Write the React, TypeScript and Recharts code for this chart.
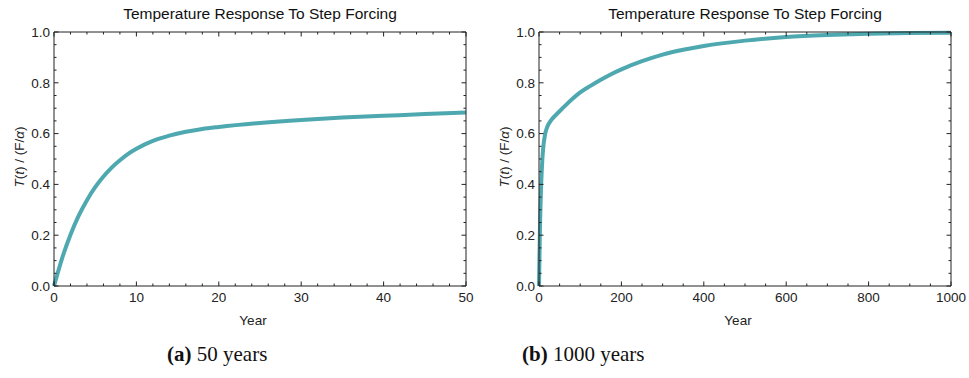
import { LineChart, Line, XAxis, YAxis } from "recharts"

// 50-year window
const yearsShort = [0, 1, 2, 3, 4, 5, 6, 7, 8, 9, 10, 12, 14, 16, 18, 20, 25, 30, 35, 40, 45, 50];
const responseShort = [0, 0.111, 0.202, 0.277, 0.338, 0.389, 0.431, 0.466, 0.495, 0.52, 0.54, 0.571, 0.592, 0.607, 0.618, 0.626, 0.642, 0.654, 0.663, 0.67, 0.677, 0.683];

// 1000-year window
const yearsLong = [0, 2, 5, 8, 10, 15, 20, 30, 40, 60, 80, 100, 125, 150, 175, 200, 250, 300, 350, 400, 500, 600, 700, 800, 900, 1000];
const responseLong = [0, 0.202, 0.389, 0.495, 0.54, 0.599, 0.626, 0.654, 0.672, 0.704, 0.735, 0.762, 0.788, 0.812, 0.834, 0.853, 0.885, 0.911, 0.93, 0.945, 0.966, 0.98, 0.988, 0.993, 0.996, 0.997];

const xMajorShort = [0, 10, 20, 30, 40, 50];
const xTicksShort = [0, 2, 4, 6, 8, 10, 12, 14, 16, 18, 20, 22, 24, 26, 28, 30, 32, 34, 36, 38, 40, 42, 44, 46, 48, 50];
const xMajorLong = [0, 200, 400, 600, 800, 1000];
const xTicksLong = [0, 50, 100, 150, 200, 250, 300, 350, 400, 450, 500, 550, 600, 650, 700, 750, 800, 850, 900, 950, 1000];
const yMajor = [0, 0.2, 0.4, 0.6, 0.8, 1];
const yTicks = [0, 0.05, 0.1, 0.15, 0.2, 0.25, 0.3, 0.35, 0.4, 0.45, 0.5, 0.55, 0.6, 0.65, 0.7, 0.75, 0.8, 0.85, 0.9, 0.95, 1];

const TITLE = "Temperature Response To Step Forcing";
const LINE_COLOR = "#4ea8b0";
const FRAME = "#222222";
const SANS = "'Liberation Sans', Arial, sans-serif";

const isMajor = (list: number[], v: number) => list.some((m) => Math.abs(m - v) < 1e-9);

function makeTicks(side: "bottom" | "top" | "left" | "right", major: number[], fmt?: (v: number) => string) {
    return (props: any) => {
        const { x, y, payload } = props;
        const v = payload.value;
        const len = isMajor(major, v) ? 4.5 : 2.5;
        if (side === "bottom") {
            return (
                <g>
                    <line x1={x} x2={x} y1={y} y2={y - len} stroke={FRAME} />
                    {fmt && isMajor(major, v) ? (
                        <text x={x} y={y + 16} textAnchor="middle" fontSize={13.5} fontFamily={SANS} fill="#222">{fmt(v)}</text>
                    ) : null}
                </g>
            );
        }
        if (side === "top") {
            return <line x1={x} x2={x} y1={y} y2={y + len} stroke={FRAME} />;
        }
        if (side === "left") {
            return (
                <g>
                    <line x1={x} x2={x + len} y1={y} y2={y} stroke={FRAME} />
                    {fmt && isMajor(major, v) ? (
                        <text x={x - 4} y={y + 4.7} textAnchor="end" fontSize={13.5} fontFamily={SANS} fill="#222">{fmt(v)}</text>
                    ) : null}
                </g>
            );
        }
        return <line x1={x} x2={x - len} y1={y} y2={y} stroke={FRAME} />;
    };
}

function Panel(props: {
    years: number[];
    values: number[];
    xMax: number;
    xTicks: number[];
    xMajor: number[];
    width: number;
    marginLeft: number;
    marginRight: number;
    labelX: number;
}) {
    const data = props.years.map((year, i) => ({ year, value: props.values[i] }));
    return (
        <LineChart
            width={props.width}
            height={330}
            data={data}
            margin={{ top: 31, right: props.marginRight - 1, left: props.marginLeft, bottom: 14 }}
        >
            <XAxis
                dataKey="year"
                type="number"
                domain={[0, props.xMax]}
                ticks={props.xTicks}
                interval={0}
                tickSize={0}
                tickMargin={0}
                tickLine={false}
                axisLine={{ stroke: FRAME }}
                height={30}
                tick={makeTicks("bottom", props.xMajor, (v) => String(v))}
                label={{
                    content: ({ viewBox }: any) => (
                        <text x={viewBox.x + viewBox.width / 2 - 7} y={325} textAnchor="middle" fontSize={13.5} fontFamily={SANS} fill="#222">Year</text>
                    ),
                }}
            />
            <XAxis
                xAxisId="top"
                orientation="top"
                dataKey="year"
                type="number"
                domain={[0, props.xMax]}
                ticks={props.xTicks}
                interval={0}
                tickSize={0}
                tickMargin={0}
                tickLine={false}
                axisLine={{ stroke: FRAME }}
                height={1}
                tick={makeTicks("top", props.xMajor)}
            />
            <YAxis
                type="number"
                domain={[0, 1]}
                ticks={yTicks}
                interval={0}
                tickSize={0}
                tickMargin={0}
                tickLine={false}
                axisLine={{ stroke: FRAME }}
                width={40}
                tick={makeTicks("left", yMajor, (v) => v.toFixed(1))}
                label={{
                    content: () => {
                        const cx = props.labelX;
                        const cy = 157;
                        return (
                            <text x={cx} y={cy} transform={`rotate(-90 ${cx} ${cy})`} textAnchor="middle" dominantBaseline="central" fontSize={13.5} fontFamily={SANS} fill="#222">
                                <tspan fontStyle="italic">T</tspan>(<tspan fontStyle="italic">t</tspan>) / (F/<tspan fontStyle="italic">α</tspan>)
                            </text>
                        );
                    },
                }}
            />
            <YAxis
                yAxisId="right"
                orientation="right"
                type="number"
                domain={[0, 1]}
                ticks={yTicks}
                interval={0}
                tickSize={0}
                tickMargin={0}
                tickLine={false}
                axisLine={{ stroke: FRAME }}
                width={1}
                tick={makeTicks("right", yMajor)}
            />
            <Line
                type="monotone"
                dataKey="value"
                stroke={LINE_COLOR}
                strokeWidth={4}
                dot={false}
                isAnimationActive={false}
            />
            {/* invisible series so the frame axes (top/right) get drawn */}
            <Line
                xAxisId="top"
                yAxisId="right"
                dataKey="value"
                stroke="none"
                dot={false}
                activeDot={false}
                legendType="none"
                isAnimationActive={false}
            />
        </LineChart>
    );
}

const captionStyle = {
    position: "absolute" as const,
    top: 342,
    fontFamily: "'Liberation Serif', 'DejaVu Serif', serif",
    fontSize: 21,
    color: "#111",
    whiteSpace: "nowrap" as const,
};

const titleStyle = {
    position: "absolute" as const,
    top: 5,
    fontFamily: SANS,
    fontSize: 15.5,
    color: "#111",
    whiteSpace: "nowrap" as const,
    transform: "translateX(-50%)",
};

export default function App() {
    return (
        <div style={{ position: "absolute", left: 0, top: 0, width: 969, height: 378, background: "#fff", overflow: "hidden" }}>
            <div style={{ position: "absolute", left: 0, top: 0 }}>
                <Panel years={yearsShort} values={responseShort} xMax={50} xTicks={xTicksShort} xMajor={xMajorShort}
                    width={480} marginLeft={14} marginRight={14} labelX={19} />
            </div>
            <div style={{ position: "absolute", left: 480, top: 0 }}>
                <Panel years={yearsLong} values={responseLong} xMax={1000} xTicks={xTicksLong} xMajor={xMajorLong}
                    width={489} marginLeft={19} marginRight={18} labelX={24} />
            </div>
            <div style={{ ...titleStyle, left: 260 }}>{TITLE}</div>
            <div style={{ ...titleStyle, left: 745 }}>{TITLE}</div>
            <div style={{ ...captionStyle, left: 167 }}><b>(a)</b> 50 years</div>
            <div style={{ ...captionStyle, left: 522 }}><b>(b)</b> 1000 years</div>
        </div>
    );
}
